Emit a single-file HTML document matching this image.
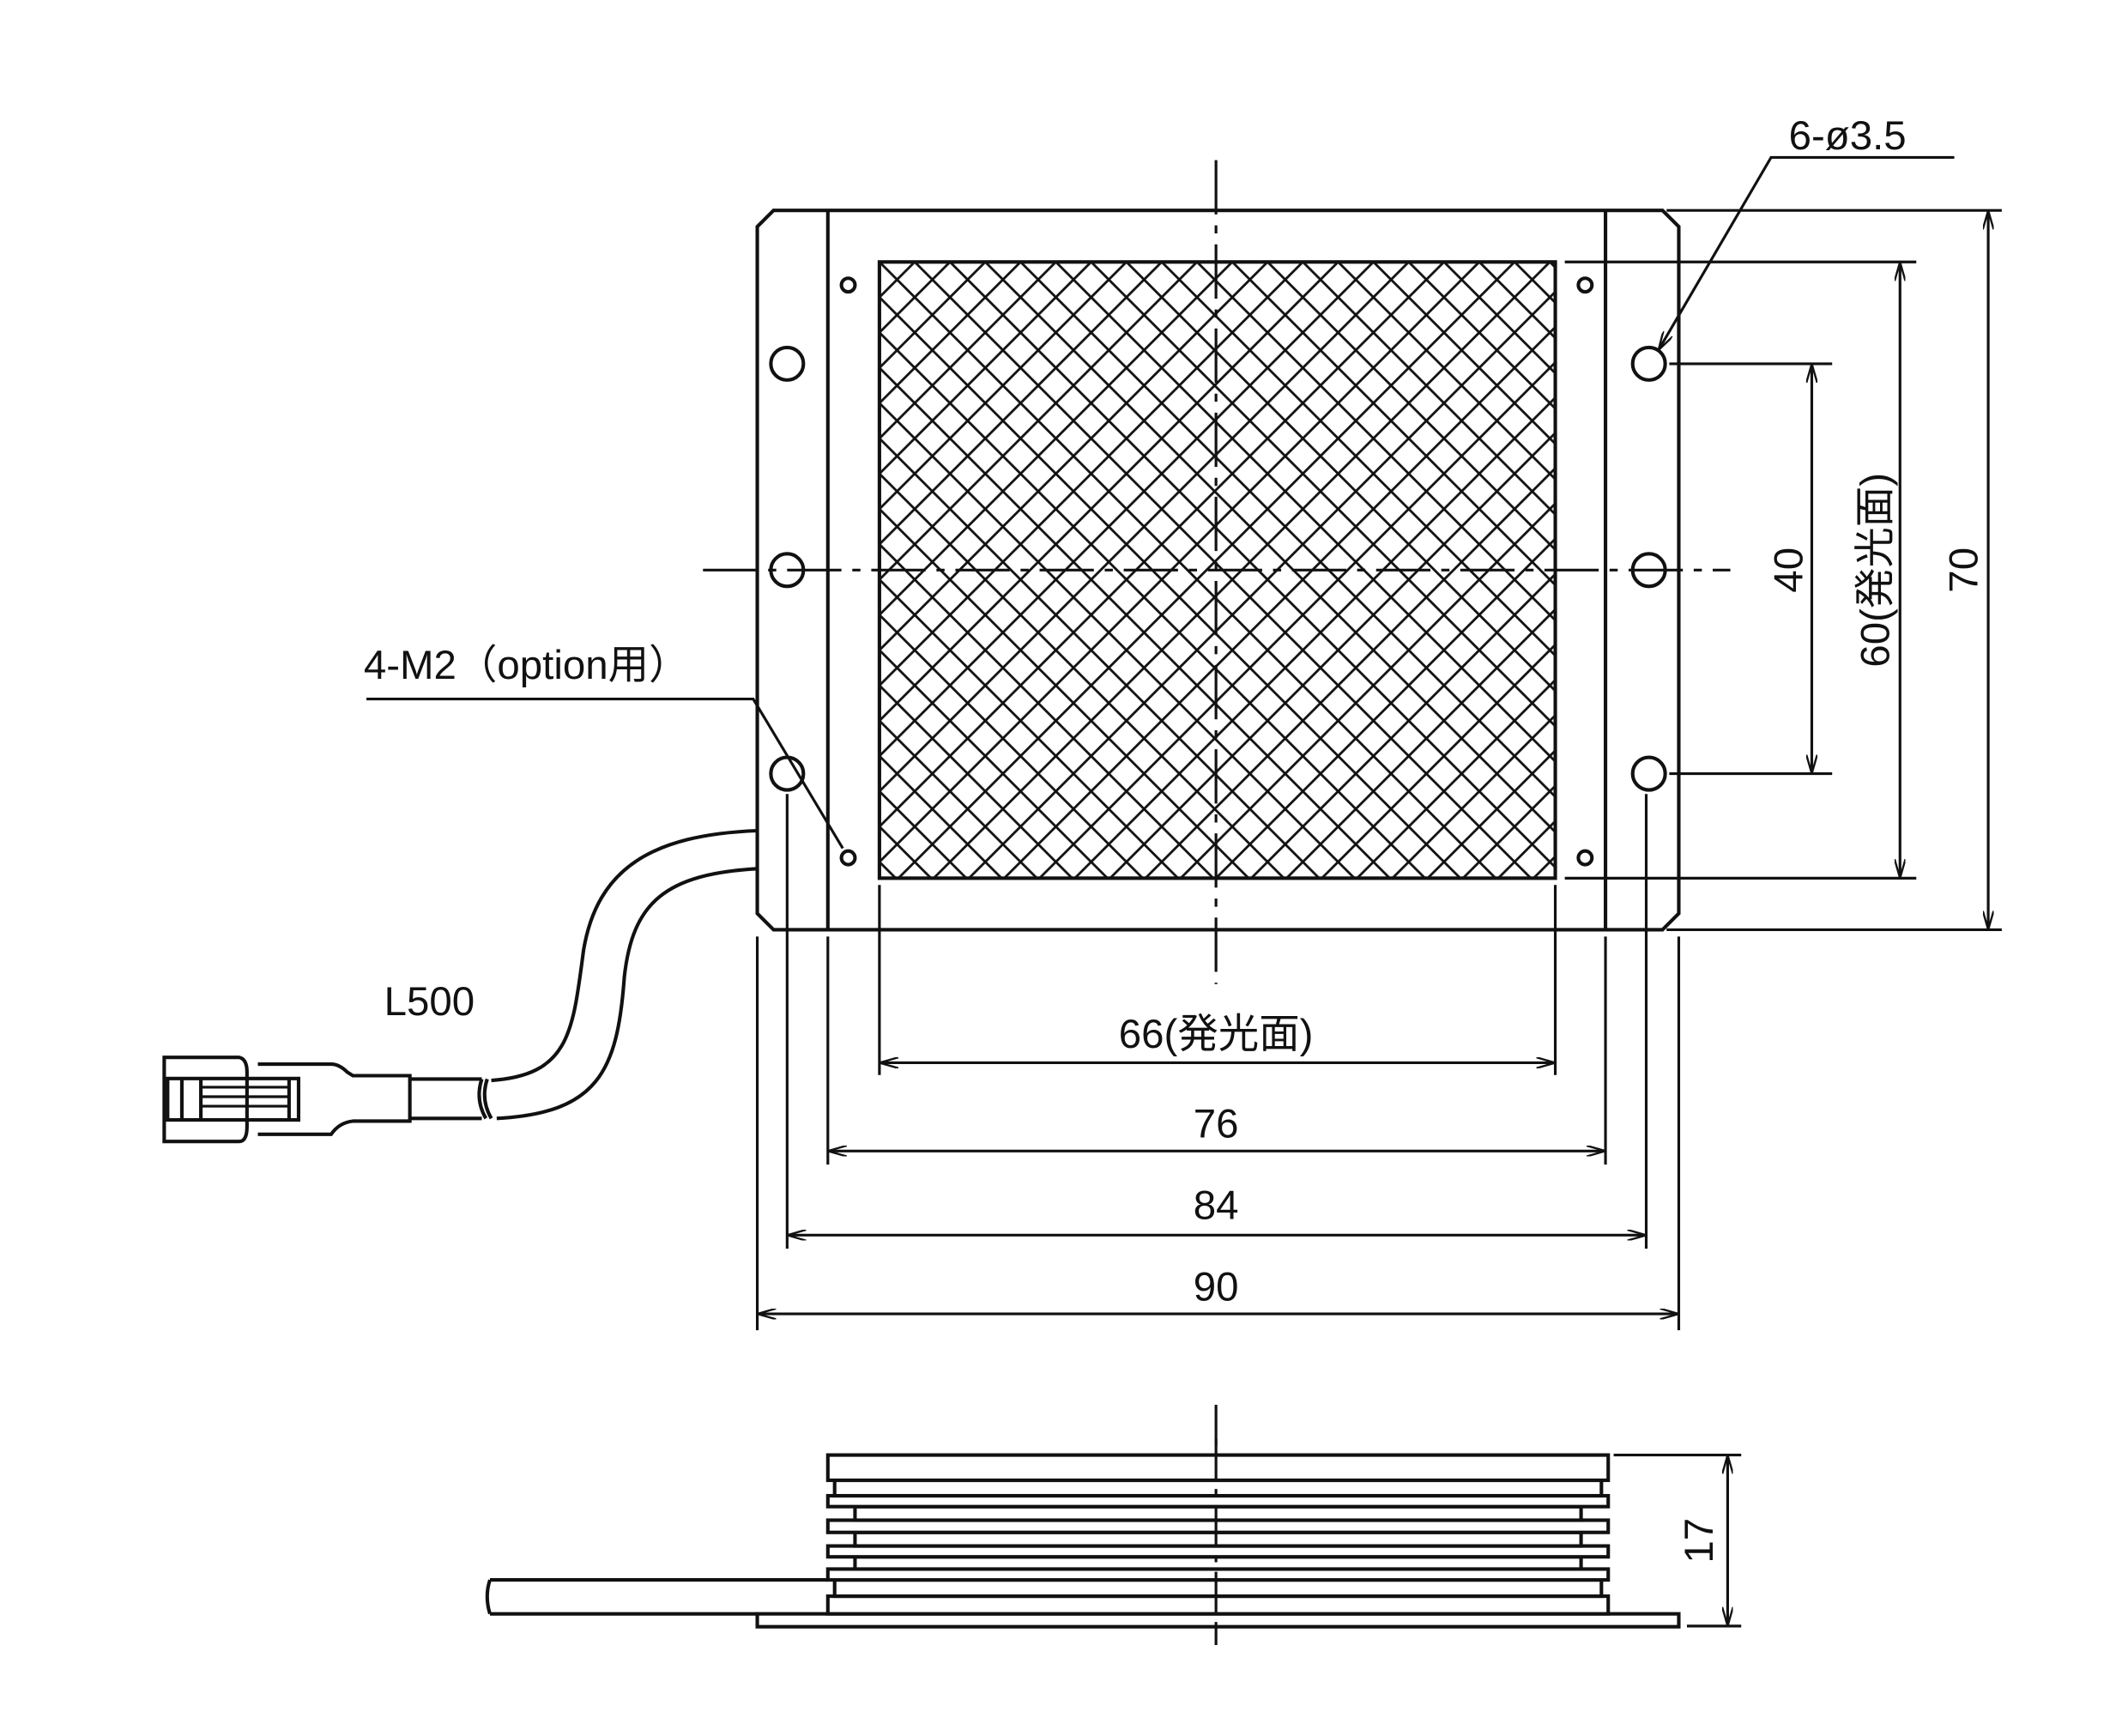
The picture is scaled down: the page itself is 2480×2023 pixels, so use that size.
<!DOCTYPE html>
<html><head><meta charset="utf-8"><style>html,body{margin:0;padding:0;background:#fff}svg{display:block}</style></head><body>
<svg xmlns="http://www.w3.org/2000/svg" width="2480" height="2023" viewBox="0 0 1568 1279" preserveAspectRatio="none" font-family="'Liberation Sans','Noto Sans CJK JP',sans-serif">
<defs>
<pattern id="hx" width="26" height="26" patternUnits="userSpaceOnUse" x="648" y="193">
<path d="M0,0 L26,26 M26,0 L0,26 M-13,13 L13,39 M13,-13 L39,13" stroke="#111" stroke-width="1.8" fill="none"/>
</pattern>
<marker id="ar" markerWidth="14" markerHeight="8" refX="14" refY="4" orient="auto-start-reverse" markerUnits="userSpaceOnUse"><path d="M0,0 L14,4 L0,8" fill="none" stroke="#111" stroke-width="1.5"/></marker>
</defs>
<g stroke="#111" stroke-width="2.6" fill="none">
<!-- top view plate -->
<path d="M570,155 L1225,155 L1237,167 L1237,673 L1225,685 L570,685 L558,673 L558,167 Z"/>
<line x1="610" y1="155" x2="610" y2="685"/>
<line x1="1183" y1="155" x2="1183" y2="685"/>
<rect x="648" y="193" width="498" height="454" fill="url(#hx)"/>
<circle cx="625" cy="210" r="5"/><circle cx="1168" cy="210" r="5"/>
<circle cx="625" cy="632" r="5"/><circle cx="1168" cy="632" r="5"/>
<circle cx="580" cy="268" r="12"/><circle cx="580" cy="420" r="12"/><circle cx="580" cy="570" r="12"/>
<circle cx="1215" cy="268" r="12"/><circle cx="1215" cy="420" r="12"/><circle cx="1215" cy="570" r="12"/>
<!-- cable -->
<path d="M362,796 C420,792 422,760 430,700 C440,640 480,615 558,612"/>
<path d="M366,824 C440,820 455,790 460,720 C466,665 490,644 558,640"/>
<!-- connector -->
<path d="M121,779 L176,779 Q182,780 182,790 L182,830 Q182,841 176,841 L121,841 Z"/>
<rect x="123.5" y="794.6" width="96.5" height="30.5"/>
<line x1="134" y1="794.6" x2="134" y2="825"/>
<line x1="148" y1="794.6" x2="148" y2="825"/>
<line x1="213" y1="794.6" x2="213" y2="825"/>
<line x1="148" y1="801" x2="213" y2="801" stroke-width="2"/>
<line x1="148" y1="808" x2="213" y2="808" stroke-width="2"/>
<line x1="148" y1="815" x2="213" y2="815" stroke-width="2"/>
<path d="M190,784 L244,784 Q250,784 256,790 L260,792.5 L302,792.5 L302,826 L260,826 Q250,827 244,835.7 L190,835.7"/>
<path d="M302,795 L355,795 M302,824 L355,824"/>
<path d="M355,795 Q350,810 358,824 M359,795 Q354,810 362,824"/>
<!-- leaders -->
<path d="M1440,116 L1305,116 L1222,258" marker-end="url(#ar)" stroke-width="2"/>
<path d="M270,515 L555,515 L621,625" stroke-width="2"/>
</g>
<g stroke="#111" stroke-width="2" fill="none">
<!-- centerlines -->
<line x1="896" y1="118" x2="896" y2="725" stroke-dasharray="40,8,6,8"/>
<line x1="518" y1="420" x2="1275" y2="420" stroke-dasharray="40,8,6,8"/>
<!-- extension lines bottom -->
<line x1="648" y1="652" x2="648" y2="792"/><line x1="1146" y1="652" x2="1146" y2="792"/>
<line x1="610" y1="690" x2="610" y2="858"/><line x1="1183" y1="690" x2="1183" y2="858"/>
<line x1="580" y1="585" x2="580" y2="920"/><line x1="1213" y1="585" x2="1213" y2="920"/>
<line x1="558" y1="690" x2="558" y2="980"/><line x1="1237" y1="690" x2="1237" y2="980"/>
<line x1="648" y1="783" x2="1146" y2="783" marker-start="url(#ar)" marker-end="url(#ar)"/>
<line x1="610" y1="848" x2="1183" y2="848" marker-start="url(#ar)" marker-end="url(#ar)"/>
<line x1="580" y1="910" x2="1213" y2="910" marker-start="url(#ar)" marker-end="url(#ar)"/>
<line x1="558" y1="968" x2="1237" y2="968" marker-start="url(#ar)" marker-end="url(#ar)"/>
<!-- right dims -->
<line x1="1230" y1="268" x2="1350" y2="268"/><line x1="1230" y1="570" x2="1350" y2="570"/>
<line x1="1153" y1="193" x2="1412" y2="193"/><line x1="1153" y1="647" x2="1412" y2="647"/>
<line x1="1228" y1="155" x2="1475" y2="155"/><line x1="1228" y1="685" x2="1475" y2="685"/>
<line x1="1335" y1="268" x2="1335" y2="570" marker-start="url(#ar)" marker-end="url(#ar)"/>
<line x1="1400" y1="193" x2="1400" y2="647" marker-start="url(#ar)" marker-end="url(#ar)"/>
<line x1="1465" y1="155" x2="1465" y2="685" marker-start="url(#ar)" marker-end="url(#ar)"/>
<!-- side view centerline -->
<line x1="896" y1="1035" x2="896" y2="1218" stroke-dasharray="30,7,5,7"/>
<!-- 17 -->
<line x1="1189" y1="1072" x2="1283" y2="1072"/>
<line x1="1243" y1="1198" x2="1283" y2="1198"/>
<line x1="1273" y1="1072" x2="1273" y2="1198" marker-start="url(#ar)" marker-end="url(#ar)"/>
</g>
<!-- side view -->
<g stroke="#111" stroke-width="2.6" fill="#fff">
<rect x="558" y="1189" width="679" height="9.5"/>
<path d="M361,1164 L610,1164 M361,1189 L558,1189" fill="none"/>
<path d="M361,1164 Q357,1176 361,1189" fill="none"/>
<rect x="610" y="1176" width="575" height="13"/>
<rect x="615" y="1164" width="565" height="12"/>
<rect x="610" y="1156" width="575" height="8"/>
<rect x="630" y="1147" width="535" height="9"/>
<rect x="610" y="1139" width="575" height="8"/>
<rect x="630" y="1129" width="535" height="10"/>
<rect x="610" y="1120" width="575" height="9"/>
<rect x="630" y="1110" width="535" height="10"/>
<rect x="610" y="1102" width="575" height="8"/>
<rect x="615" y="1090.6" width="565" height="11.4"/>
<rect x="610" y="1072" width="575" height="18.6"/>
</g>
<line x1="896" y1="1060" x2="896" y2="1200" stroke="#111" stroke-width="2" stroke-dasharray="30,7,5,7"/>
<!-- text -->
<g fill="#111" font-size="30">
<text x="1318" y="110">6-ø3.5</text>
<text x="268" y="500">4-M2（option用）</text>
<text x="283" y="748">L500</text>
<text x="896" y="772" text-anchor="middle">66(発光面)</text>
<text x="896" y="838" text-anchor="middle">76</text>
<text x="896" y="898" text-anchor="middle">84</text>
<text x="896" y="958" text-anchor="middle">90</text>
<text transform="translate(1328,420) rotate(-90)" text-anchor="middle">40</text>
<text transform="translate(1392,420) rotate(-90)" text-anchor="middle">60(発光面)</text>
<text transform="translate(1457,420) rotate(-90)" text-anchor="middle">70</text>
<text transform="translate(1262,1135) rotate(-90)" text-anchor="middle">17</text>
</g>
</svg>
</body></html>
